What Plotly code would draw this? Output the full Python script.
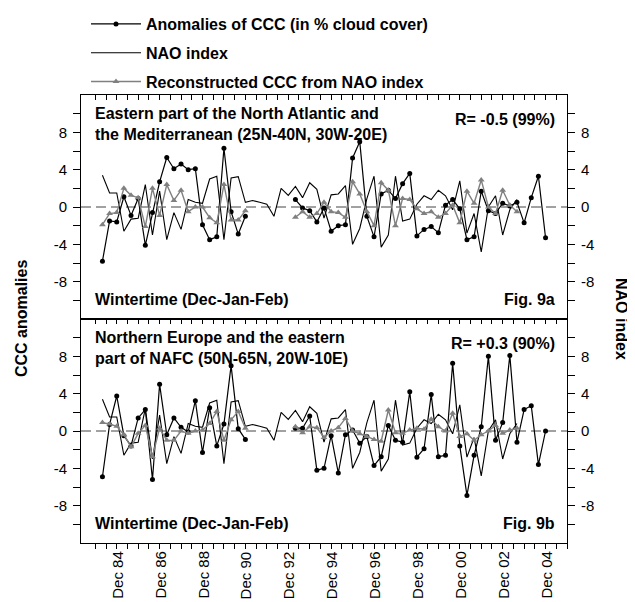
import plotly.graph_objects as go

# ---------------- data (one point per winter month Dec/Jan/Feb, Dec 83 = index 0) ----------------
month_index = list(range(63))

nao = [3.4, 1.5, 1.5, -2.6, -1.3, -1.2, 2.4, -3.0, 1.7, -3.5, -0.6, -2.4, 0.8, 0.5, 0.4, 3.0, 3.3, -3.5, 3.1, 3.25, 0.5,
       0.7, 0.5, 0.3, -1.0, 2.0, 1.25,
       2.2, 1.0, 2.6, 1.9, -1.2, 1.3, 1.4, 2.3, -4.0,
       -2.3, 0.9, 3.3, -4.3, -3.0, 3.3, -1.5, -1.3, 0.3, 1.2, 0.8, 1.8, 1.2, -0.3, 2.8, -2.8, -0.7, -4.8, 0.0, 1.2,
       -3.0, -0.3, 0.8, None, None, None, None]

ccc_a = [-5.8, -1.5, -1.6, 1.1, -0.9, 0.9, -4.1, -0.6, 2.7, 5.3, 4.1, 4.6, 4.0, 4.1, -1.9, -3.5, -3.2, 6.3, -0.5, -2.9, -1.0,
         None, None, None, None, None, None,
         0.8, -0.1, -0.4, -1.6, -0.1, -2.6, -2.0, -1.9, 5.25, 7.0, -1.0, -3.2, 1.4, 1.8, 0.9, 2.5, 3.6, -3.1, -2.4, -2.1,
         -2.75, 0.2, 0.8, -0.2, -3.5, -3.2, 1.7, -0.4, -0.7, 0.4, 0.1, 0.5, -1.7, 1.0, 3.3, -3.3]

rec_a = [-1.9, -0.7, -0.6, 2.0, 1.25, 1.0, -2.1, 2.0, -0.9, 2.4, 0.7, 1.8, -0.5, 0.0, 0.0, -1.15, -1.7, 2.4, -1.4, -1.4, -0.4,
         None, None, None, None, None, None,
         -1.1, -0.5, -1.1, -0.7, 0.5, -0.5, -0.6, -1.1, 2.7, 1.4, -0.5, -2.0, 2.6, 1.8, -2.0, 0.9, 0.8, -0.2, -0.7, -0.5,
         -1.1, -0.7, 0.2, -1.7, 1.7, 0.4, 2.9, 0.0, -0.7, 1.8, 0.2, -0.5, None, None, None, None]

ccc_b = [-4.9, 0.7, 3.75, -0.5, -1.6, 1.4, 2.3, -5.2, 5.0, -0.4, 1.4, 0.4, -0.1, 3.25, -2.3, 2.5, -1.6, 0.75, 7.0, 0.25, -0.9,
         None, None, None, None, None, None,
         0.3, 0.3, 1.6, -4.2, -4.0, -0.5, -4.5, -0.4, 0.1, -1.3, -0.6, -3.7, -2.75, 0.6, -1.0, -1.2, 4.2, -2.8, -1.9, 3.9,
         -2.75, -2.6, 7.25, -1.6, -6.9, -2.6, 0.45, 8.0, -1.0, 0.9, 8.1, -1.2, 2.3, 2.7, -3.6, 0.0]

rec_b = [0.9, 0.75, 0.5, -0.4, -1.7, -0.25, 0.6, -2.75, 0.3, -1.0, -1.0, 0.0, -0.25, 0.0, 0.1, 0.8, 2.1, -1.0, 1.2, 2.1, 0.3,
         None, None, None, None, None, None,
         0.45, -0.2, 0.45, 0.35, -0.7, 0.0, 0.35, 1.35, 0.0, -0.3, -0.6, -0.9, -1.1, 2.25, -0.2, -0.25, 0.1, 0.3, 0.2, 1.25,
         0.45, 0.0, 1.9, -0.6, -0.3, -1.0, -0.4, 0.0, 0.6, -0.25, 0.1, 0.3, None, None, None, None]

x_tick_pos = [-1 + 1.5 * k for k in range(45)]
x_label_pos = [2 + 6 * k for k in range(11)]
x_labels = ["Dec 84", "Dec 86", "Dec 88", "Dec 90", "Dec 92", "Dec 94", "Dec 96", "Dec 98", "Dec 00", "Dec 02", "Dec 04"]
y_tick_vals = [-10, -8, -6, -4, -2, 0, 2, 4, 6, 8, 10]
y_tick_text = ["" if v % 4 else str(v) for v in y_tick_vals]

# ---------------- styling ----------------
FONT = "Arial, Liberation Sans, sans-serif"
BLACK = "#000000"
GREY = "#808080"
PLOT_W, PLOT_H = 486, 448
L, T = 73, 87   # page body adds 8px offset

fig = go.Figure()

def add_panel(xa, ya, ccc, rec, show):
    fig.add_trace(go.Scatter(x=month_index, y=ccc, mode="lines+markers", name="Anomalies of CCC (in % cloud cover)",
                             line=dict(color=BLACK, width=1.2), marker=dict(color=BLACK, size=5, symbol="circle"),
                             xaxis=xa, yaxis=ya, showlegend=show, legendgroup="g1", legendrank=1))
    fig.add_trace(go.Scatter(x=month_index, y=nao, mode="lines", name="NAO index",
                             line=dict(color=BLACK, width=1.1),
                             xaxis=xa, yaxis=ya, showlegend=show, legendgroup="g2", legendrank=2))
    fig.add_trace(go.Scatter(x=month_index, y=rec, mode="lines+markers", name="Reconstructed CCC from NAO index",
                             line=dict(color=GREY, width=1.4), marker=dict(color=GREY, size=6, symbol="triangle-up"),
                             xaxis=xa, yaxis=ya, showlegend=show, legendgroup="g3", legendrank=3))

add_panel("x", "y", ccc_a, rec_a, True)
add_panel("x3", "y3", ccc_b, rec_b, False)

axis_common = dict(showgrid=False, zeroline=False, showline=True, linecolor=BLACK, linewidth=1,
                   tickcolor=BLACK, tickwidth=1, tickfont=dict(family=FONT, size=15, color=BLACK))

yax = dict(range=[-12, 12], tickmode="array", tickvals=y_tick_vals, ticktext=y_tick_text,
           ticks="outside", ticklen=7, ticklabelstandoff=3, **axis_common)
xax = dict(range=[-3, 65], tickmode="array", tickvals=x_tick_pos, **axis_common)

fig.update_layout(
    width=627, height=594,
    margin=dict(l=L, r=68, t=T, b=59, autoexpand=False),
    paper_bgcolor="white", plot_bgcolor="white",
    font=dict(family=FONT, color=BLACK),
    xaxis=dict(domain=[0, 1], anchor="y", side="top", ticks="inside", ticklen=5, showticklabels=False,
               mirror=True, **xax),
    yaxis=dict(domain=[0.5, 1], anchor="x", **yax),
    yaxis2=dict(domain=[0.5, 1], anchor="x", overlaying="y", side="right", matches="y", **yax),
    xaxis3=dict(domain=[0, 1], anchor="y3", side="bottom", ticks="outside", ticklen=5, showticklabels=False,
                mirror=True, **xax),
    xaxis4=dict(domain=[0, 1], anchor="y3", overlaying="x3", side="top", ticks="inside", ticklen=5,
                showticklabels=False, matches="x3", **xax),
    yaxis3=dict(domain=[0, 0.5], anchor="x3", **yax),
    yaxis4=dict(domain=[0, 0.5], anchor="x3", overlaying="y3", side="right", matches="y3", **yax),
    legend=dict(x=(78 - L) / PLOT_W, y=1 + (T + 1) / PLOT_H, xanchor="left", yanchor="top", tracegroupgap=5,
                font=dict(family=FONT, size=16, color=BLACK, weight="bold"), bgcolor="rgba(0,0,0,0)",
                itemwidth=50, traceorder="grouped"),
)

# dummy traces to activate overlay axes
fig.add_trace(go.Scatter(x=[None], y=[None], xaxis="x", yaxis="y2", showlegend=False, hoverinfo="skip"))
fig.add_trace(go.Scatter(x=[None], y=[None], xaxis="x4", yaxis="y4", showlegend=False, hoverinfo="skip"))

for xr, yr in (("x domain", "y"), ("x3 domain", "y3")):
    fig.add_shape(type="line", xref=xr, x0=0, x1=1, yref=yr, y0=0, y1=0,
                  line=dict(color="#444444", width=1, dash="10px,5px"), layer="below")

def note(text, xr, yr, x, y, xanchor, yanchor, align="left"):
    fig.add_annotation(text=text, xref=xr, yref=yr, x=x, y=y, xanchor=xanchor, yanchor=yanchor, showarrow=False,
                       align=align, font=dict(family=FONT, size=16, color=BLACK, weight="bold"))

note("Eastern part of the North Atlantic and<br>the Mediterranean (25N-40N, 30W-20E)", "x domain", "y domain",
     0.025, 0.965, "left", "top")
note("R= -0.5 (99%)", "x domain", "y domain", 0.979, 0.89, "right", "middle")
note("Wintertime (Dec-Jan-Feb)", "x domain", "y domain", 0.025, 0.085, "left", "middle")
note("Fig. 9a", "x domain", "y domain", 0.979, 0.085, "right", "middle")

note("Northern Europe and the eastern<br>part of NAFC (50N-65N, 20W-10E)", "x3 domain", "y3 domain",
     0.025, 0.965, "left", "top")
note("R= +0.3 (90%)", "x3 domain", "y3 domain", 0.979, 0.89, "right", "middle")
note("Wintertime (Dec-Jan-Feb)", "x3 domain", "y3 domain", 0.025, 0.085, "left", "middle")
note("Fig. 9b", "x3 domain", "y3 domain", 0.979, 0.085, "right", "middle")

# rotated x tick labels under the lower panel
for pos, lab in zip(x_label_pos, x_labels):
    fig.add_annotation(text=lab, xref="x3", yref="y3 domain", x=pos, y=-6 / 224, xanchor="center", yanchor="top",
                       textangle=-90, showarrow=False, font=dict(family=FONT, size=15, color=BLACK))

fig.add_annotation(text="CCC anomalies", xref="paper", yref="paper", x=(13 - L) / PLOT_W, y=0.5, textangle=-90,
                   xanchor="center", yanchor="middle",
                   showarrow=False, font=dict(family=FONT, size=16, color=BLACK, weight="bold"))
fig.add_annotation(text="NAO index", xref="paper", yref="paper", x=(614 - L) / PLOT_W, y=0.5, textangle=90,
                   xanchor="center", yanchor="middle",
                   showarrow=False, font=dict(family=FONT, size=16, color=BLACK, weight="bold"))

fig.write_html("out.html")
